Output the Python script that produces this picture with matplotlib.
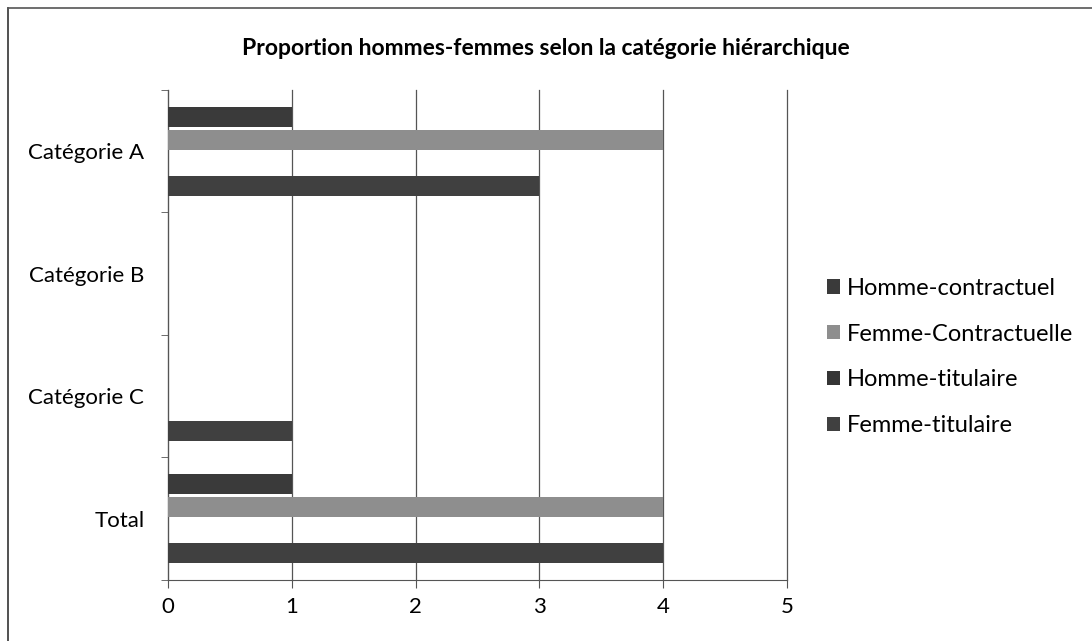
import matplotlib.pyplot as plt
import numpy as np
from matplotlib.ticker import FixedLocator

plt.rcParams['font.family'] = ['Lato', 'DejaVu Sans']

categories = ['Catégorie A', 'Catégorie B', 'Catégorie C', 'Total']
series = ['Homme-contractuel', 'Femme-Contractuelle', 'Homme-titulaire', 'Femme-titulaire']
homme_contractuel = [1, 0, 0, 1]
femme_contractuelle = [4, 0, 0, 4]
homme_titulaire = [0, 0, 0, 0]
femme_titulaire = [3, 0, 1, 4]
colors = ['#3a3a3a', '#8e8e8e', '#353535', '#404040']

fig = plt.figure(figsize=(10.92, 6.41), dpi=100)
ax = fig.add_axes([0.1538, 0.0952, 0.5669, 0.7644])

y = np.arange(len(categories))
slot = 0.1885
values = [homme_contractuel, femme_contractuelle, homme_titulaire, femme_titulaire]
handles = []
for k, (name, vals, c) in enumerate(zip(series, values, colors)):
    h = ax.barh(y + (k - 1.5) * slot, vals, height=0.165, color=c, label=name, zorder=3)
    handles.append(h)

ax.set_xlim(0, 5)
ax.set_ylim(3.5, -0.5)
ax.set_xticks(range(6))
ax.grid(axis='x', color='#555555', linewidth=0.9, zorder=0)
for gl in ax.get_xgridlines():
    gl.set_clip_on(False)

ax.set_yticks(y)
ax.set_yticklabels(categories)
ax.yaxis.set_minor_locator(FixedLocator(np.arange(-0.5, 4.0, 1.0)))
ax.tick_params(axis='y', which='major', length=0, pad=17, labelsize=16)
ax.tick_params(axis='y', which='minor', length=5, color='#555555')
ax.tick_params(axis='x', length=6, color='#555555', labelsize=16, pad=6)

for s in ['top', 'right']:
    ax.spines[s].set_visible(False)
for s in ['left', 'bottom']:
    ax.spines[s].set_color('#555555')

fig.text(0.4995, 0.925, 'Proportion hommes-femmes selon la catégorie hiérarchique',
         ha='center', va='center', fontsize=16.5, fontweight='bold')

fig.legend(handles=handles, labels=series, loc='center left',
           bbox_to_anchor=(0.7575, 0.443), frameon=False, fontsize=17,
           handlelength=0.55, handleheight=0.55, handletextpad=0.3, labelspacing=1.05,
           borderpad=0, borderaxespad=0)

# chart frame lines
fig.add_artist(plt.Line2D([0.0075, 0.0075], [0, 0.988], color='#333333', linewidth=1.2))
fig.add_artist(plt.Line2D([0.0075, 1], [0.988, 0.988], color='#555555', linewidth=1.2))

fig.savefig('out.png', dpi=100)
